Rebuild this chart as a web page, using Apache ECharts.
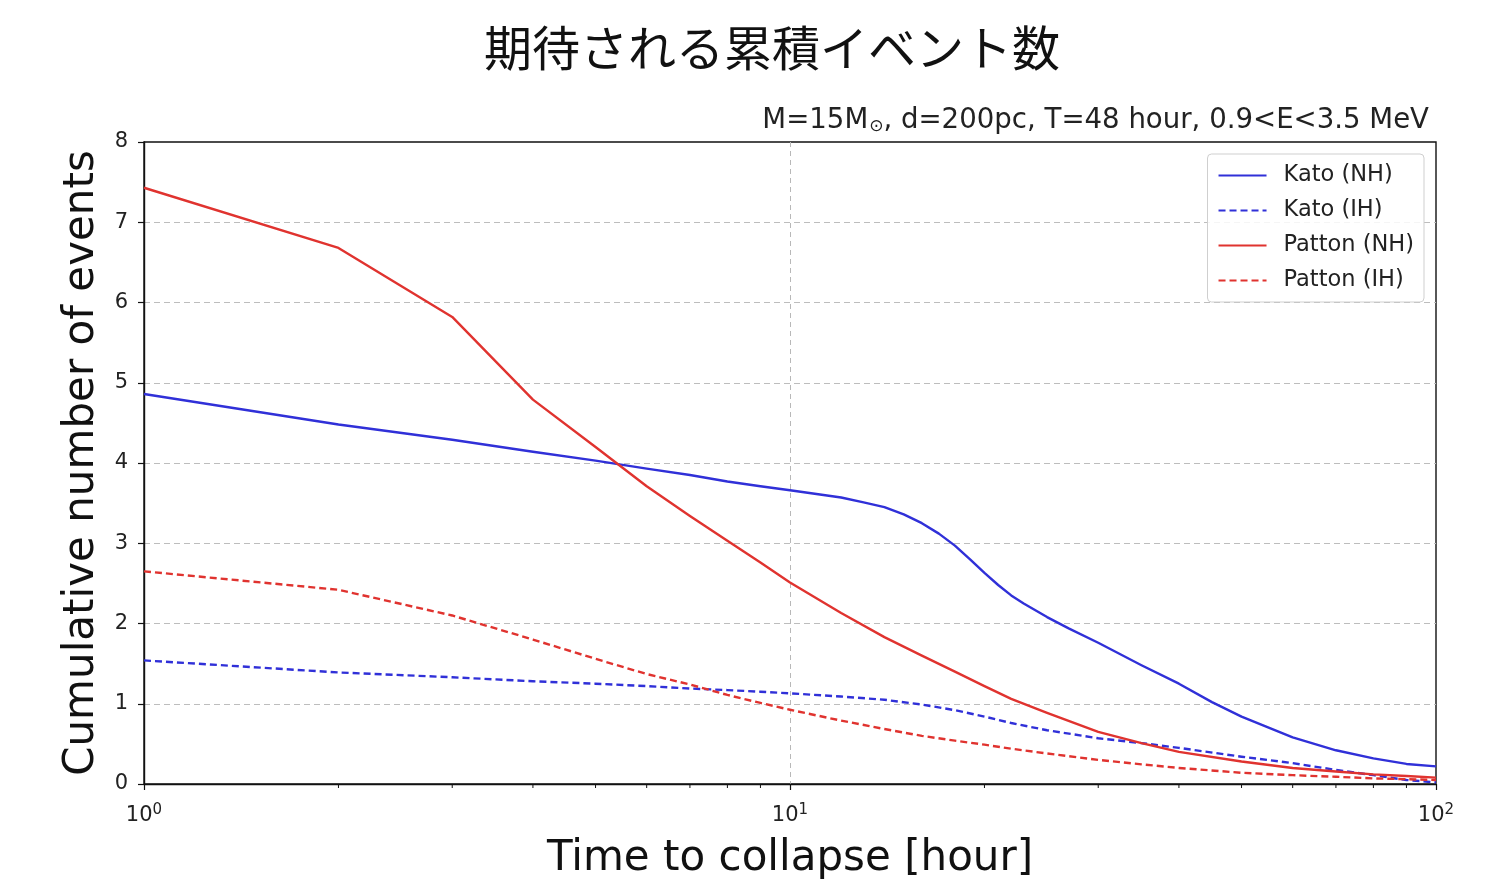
<!DOCTYPE html>
<html>
<head>
<meta charset="utf-8">
<title>期待される累積イベント数</title>
<script src="https://cdn.jsdelivr.net/npm/echarts@6/dist/echarts.min.js"></script>
<style>
  html, body { margin: 0; padding: 0; background: #fff; }
  #chart { width: 1497px; height: 888px; }
</style>
</head>
<body>
<div id="chart"></div>
<script>
// Time to collapse [hour]
const hours = [1, 2, 3, 4, 5, 6, 7, 8, 9, 10, 12, 14, 16, 18, 20, 22, 25, 30, 35, 40, 50, 60, 70, 80, 90, 100];
// Kato (NH) is sampled more finely around its knee
const hoursKatoNH = [1, 2, 3, 4, 5, 6, 7, 8, 9, 10, 12, 13, 14, 15, 16, 17, 18, 19, 20, 21, 22, 23, 25, 27, 30, 35, 40, 45, 50, 60, 70, 80, 90, 100];

// Cumulative expected events for each model / mass ordering
const katoNH   = [4.86, 4.48, 4.29, 4.14, 4.03, 3.93, 3.85, 3.77, 3.71, 3.66, 3.57, 3.51, 3.45, 3.36, 3.25, 3.12, 2.97, 2.80, 2.63, 2.48, 2.35, 2.25, 2.08, 1.94, 1.76, 1.48, 1.25, 1.02, 0.84, 0.58, 0.42, 0.32, 0.25, 0.22];
const katoIH   = [1.54, 1.39, 1.33, 1.28, 1.25, 1.22, 1.19, 1.17, 1.15, 1.13, 1.09, 1.05, 0.99, 0.92, 0.84, 0.76, 0.67, 0.57, 0.51, 0.45, 0.34, 0.26, 0.175, 0.11, 0.05, 0.02];
const pattonNH = [7.43, 6.68, 5.82, 4.79, 4.20, 3.71, 3.34, 3.03, 2.76, 2.51, 2.13, 1.83, 1.60, 1.40, 1.22, 1.06, 0.885, 0.65, 0.51, 0.40, 0.28, 0.20, 0.155, 0.12, 0.10, 0.08];
const pattonIH = [2.65, 2.42, 2.10, 1.80, 1.56, 1.37, 1.24, 1.11, 1.01, 0.925, 0.79, 0.685, 0.60, 0.54, 0.49, 0.44, 0.38, 0.30, 0.245, 0.20, 0.14, 0.11, 0.09, 0.07, 0.06, 0.05];

const seriesNames = ['Kato (NH)', 'Kato (IH)', 'Patton (NH)', 'Patton (IH)'];

// Minor ticks of the log axis
const minorTicks = [2, 3, 4, 5, 6, 7, 8, 9, 20, 30, 40, 50, 60, 70, 80, 90];

const BLUE = '#3030d8';
const RED = '#e0332f';
const FONT = 'DejaVu Sans';

function pairs(xs, ys) { return xs.map((h, i) => [h, ys[i]]); }

function lineSeries(name, xs, ys, color, dashed) {
  return {
    name: name,
    type: 'line',
    data: pairs(xs, ys),
    symbol: 'none',
    showSymbol: false,
    smooth: false,
    lineStyle: { color: color, width: 2.4, type: dashed ? [7, 4] : 'solid', join: 'round' },
    itemStyle: { color: color },
    z: 3
  };
}

const chart = echarts.init(document.getElementById('chart'), null, { renderer: 'canvas' });

chart.setOption({
  animation: false,
  backgroundColor: '#fff',
  title: [
    {
      text: '期待される累積イベント数',
      left: 479,
      top: 19,
      textStyle: { fontFamily: 'Noto Sans CJK JP', fontSize: 48, fontWeight: 'normal', color: '#111' }
    },
    {
      text: '{a|M=15M}{s|⊙}{a|, d=200pc, T=48 hour, 0.9<E<3.5 MeV}',
      right: 63,
      top: 101,
      textStyle: {
        fontWeight: 'normal',
        rich: {
          a: { fontFamily: FONT, fontSize: 27.6, fontWeight: 'normal', color: '#222' },
          s: { fontFamily: FONT, fontSize: 17, fontWeight: 'normal', color: '#222', padding: [12, 0, 0, 1] }
        }
      }
    }
  ],
  legend: {
    data: seriesNames,
    right: 73,
    top: 154,
    orient: 'vertical',
    itemWidth: 48,
    itemHeight: 14,
    itemGap: 12,
    padding: [10, 10, 10, 10],
    backgroundColor: 'rgba(255,255,255,0.85)',
    borderColor: '#cfcfcf',
    borderWidth: 1,
    borderRadius: 4,
    itemStyle: { opacity: 0 },
    textStyle: { fontFamily: FONT, fontSize: 22.5, color: '#222', padding: [0, 0, 0, 12] }
  },
  grid: {
    left: 144, right: 61, top: 142, bottom: 104,
    show: true, borderColor: '#111', borderWidth: 1.4, backgroundColor: 'transparent'
  },
  xAxis: {
    type: 'log',
    logBase: 10,
    min: 1,
    max: 100,
    interval: 1,
    name: 'Time to collapse [hour]',
    nameLocation: 'middle',
    nameGap: 54,
    nameTextStyle: { fontFamily: FONT, fontSize: 42, color: '#111' },
    axisLine: { show: true, lineStyle: { color: '#111', width: 1.4 } },
    axisTick: { show: true, length: 6, inside: false, lineStyle: { color: '#111', width: 1.2 } },
    axisLabel: {
      margin: 19,
      formatter: function (v) {
        const e = Math.round(Math.log10(v));
        return '{b|10}{s|' + e + '}';
      },
      rich: {
        b: { fontFamily: FONT, fontSize: 21, color: '#222' },
        s: { fontFamily: FONT, fontSize: 15, color: '#222', padding: [0, 0, 10, 0] }
      }
    },
    splitLine: { show: true, showMinLine: false, showMaxLine: false, lineStyle: { color: '#b8b8b8', width: 1, type: [5, 4] } },
    minorTick: { show: false }
  },
  yAxis: {
    type: 'value',
    min: 0,
    max: 8,
    interval: 1,
    name: 'Cumulative number of events',
    nameLocation: 'middle',
    nameGap: 41,
    nameTextStyle: { fontFamily: FONT, fontSize: 42, color: '#111' },
    axisLine: { show: true, lineStyle: { color: '#111', width: 1.4 } },
    axisTick: { show: true, length: 6, inside: false, lineStyle: { color: '#111', width: 1.2 } },
    axisLabel: { margin: 16, fontFamily: FONT, fontSize: 21, color: '#222' },
    splitLine: { show: true, showMinLine: false, showMaxLine: false, lineStyle: { color: '#bdbdbd', width: 1.2, type: [6, 4] } }
  },
  series: [
    lineSeries(seriesNames[0], hoursKatoNH, katoNH, BLUE, false),
    lineSeries(seriesNames[1], hours, katoIH, BLUE, true),
    lineSeries(seriesNames[2], hours, pattonNH, RED, false),
    lineSeries(seriesNames[3], hours, pattonIH, RED, true),
    {
      name: 'minor ticks',
      type: 'custom',
      clip: false,
      silent: true,
      data: minorTicks.map(v => [v, 0]),
      renderItem: function (params, api) {
        const p = api.coord([api.value(0), 0]);
        return {
          type: 'line',
          shape: { x1: p[0], y1: p[1], x2: p[0], y2: p[1] + 4 },
          style: { stroke: '#111', lineWidth: 1 }
        };
      },
      z: 5
    }
  ]
});
</script>
</body>
</html>
